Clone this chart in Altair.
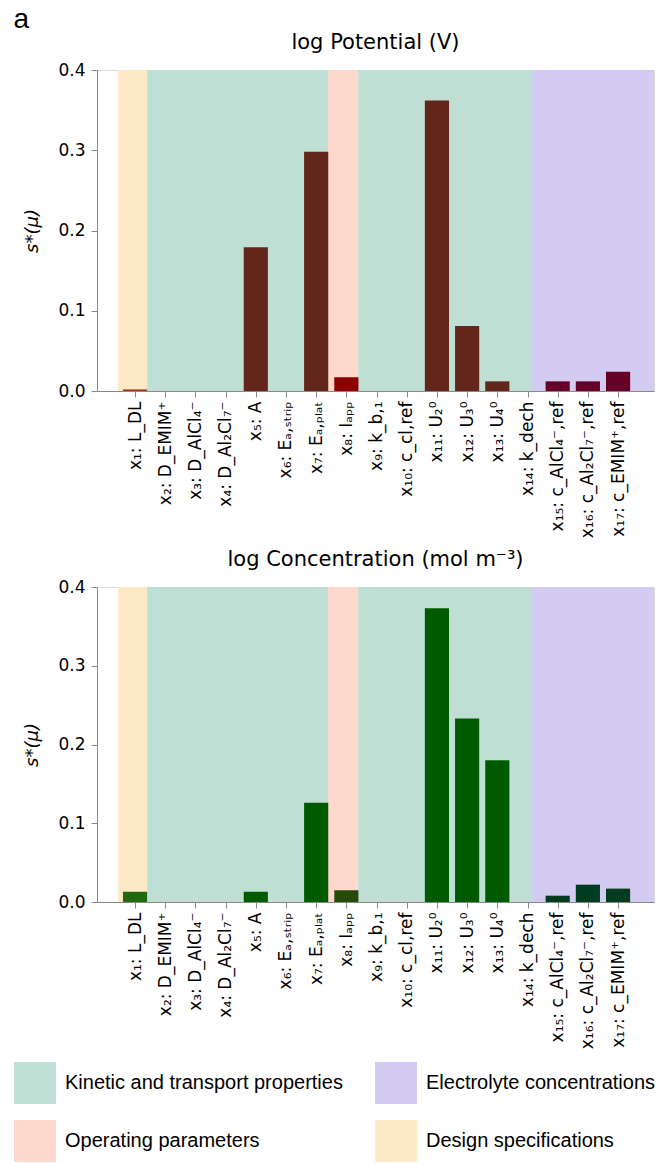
import json
import altair as alt
import pandas as pd

# ---------------- data ----------------
idx = list(range(1, 18))
labels = [
    "x₁: L_DL", "x₂: D_EMIM⁺", "x₃: D_AlCl₄⁻", "x₄: D_Al₂Cl₇⁻", "x₅: A",
    "x₆: Eₐ,ₛₜᵣᵢₚ", "x₇: Eₐ,ₚₗₐₜ", "x₈: Iₐₚₚ", "x₉: k_b,₁", "x₁₀: c_cl,ref",
    "x₁₁: U₂⁰", "x₁₂: U₃⁰", "x₁₃: U₄⁰", "x₁₄: k_dech",
    "x₁₅: c_AlCl₄⁻,ref", "x₁₆: c_Al₂Cl₇⁻,ref", "x₁₇: c_EMIM⁺,ref",
]
groups = (["Design"] + ["Kinetic"] * 6 + ["Operating"] + ["Kinetic"] * 6
          + ["Electrolyte"] * 3)
potential = [0.002, 0, 0, 0, 0.179, 0, 0.298, 0.017, 0, 0, 0.362, 0.081,
             0.012, 0, 0.012, 0.012, 0.024]
concentration = [0.013, 0, 0, 0, 0.013, 0, 0.126, 0.015, 0, 0, 0.373, 0.233,
                 0.180, 0, 0.008, 0.022, 0.017]

pot_colors = {"Design": "#9a3c1c", "Kinetic": "#62261a",
              "Operating": "#8b0000", "Electrolyte": "#660024"}
conc_colors = {"Design": "#22680e", "Kinetic": "#005a00",
               "Operating": "#264a0a", "Electrolyte": "#003c20"}

band_cat = ["Design specifications", "Kinetic and transport properties",
            "Operating parameters", "Kinetic and transport properties",
            "Electrolyte concentrations"]
band_start = [0.44, 1.40, 7.39, 8.39, 14.15]
band_end = [1.40, 7.39, 8.39, 14.15, 18.19]

# legend is filled column by column
legend_order = ["Kinetic and transport properties", "Operating parameters",
                "Electrolyte concentrations", "Design specifications"]
legend_colors = ["#bfdfd4", "#fed7cd", "#d3cbf1", "#fee9c6"]

W = 557
FONT = "DejaVu Sans"
label_expr = json.dumps(labels) + "[datum.value - 1]"


def panel(values, colors, title, height, show_legend):
    bars_df = pd.DataFrame({"idx": idx, "label": labels, "value": values,
                            "fill": [colors[g] for g in groups]})
    bands_df = pd.DataFrame({"start": band_start, "end": band_end,
                             "cat": band_cat})
    xscale = alt.Scale(domain=[-0.26, 18.19], nice=False, zero=False)
    yscale = alt.Scale(domain=[0, 0.4], nice=False)
    xaxis = alt.Axis(values=idx, labelExpr=label_expr, title=None,
                     labelAngle=270, labelAlign="right", labelBaseline="middle",
                     labelFontSize=17, labelFont=FONT, labelPadding=4,
                     tickSize=6, grid=False, labelLimit=300)
    yaxis = alt.Axis(values=[0, 0.1, 0.2, 0.3, 0.4], format=".1f",
                     title="s*(μ)", titleFontStyle="italic",
                     titleFontWeight="normal", titleFontSize=18,
                     titleFont=FONT, titlePadding=16, labelFontSize=17,
                     labelFont=FONT, labelPadding=6, tickSize=6, grid=False)
    if show_legend:
        legend = alt.Legend(orient="none", legendX=-83, legendY=475,
                            columns=2, title=None, symbolType="square",
                            symbolSize=1764, symbolStrokeWidth=0,
                            symbolOpacity=1, labelFontSize=20,
                            labelFont="Liberation Sans", labelColor="#000",
                            labelOffset=9, columnPadding=32, rowPadding=16,
                            labelLimit=400, padding=0)
    else:
        legend = None
    bands = alt.Chart(bands_df).mark_rect().encode(
        x=alt.X("start:Q", scale=xscale, axis=xaxis),
        x2="end:Q",
        y=alt.YDatum(0.0, scale=yscale, axis=yaxis),
        y2=alt.Y2Datum(0.4),
        color=alt.Color("cat:N", scale=alt.Scale(domain=legend_order,
                                                 range=legend_colors),
                        legend=legend),
    )
    bars = alt.Chart(bars_df).transform_calculate(
        lo="datum.idx - 0.4", hi="datum.idx + 0.4"
    ).mark_rect().encode(
        x=alt.X("lo:Q", scale=xscale, axis=xaxis),
        x2="hi:Q",
        y=alt.Y("value:Q", scale=yscale, axis=yaxis),
        y2=alt.Y2Datum(0.0),
        fill=alt.Fill("fill:N", scale=None),
    )
    return alt.layer(bands, bars).properties(
        width=W, height=height,
        title=alt.TitleParams(title, fontSize=21, font=FONT,
                              fontWeight="normal", offset=8),
    )


top = panel(potential, pot_colors, "log Potential (V)", 321, False)
bottom = panel(concentration, conc_colors, "log Concentration (mol m⁻³)", 315,
               True)

chart = alt.vconcat(top, bottom, spacing=9).resolve_scale(
    color="independent"
).properties(
    title=alt.TitleParams("a", anchor="start", fontSize=28,
                          font="Liberation Sans", fontWeight="normal",
                          offset=-2),
    padding={"left": 13, "top": 5, "right": 4, "bottom": 0},
).configure_view(stroke="#333", strokeWidth=1).configure_axis(
    domainColor="#333", tickColor="#333", labelColor="#222",
    titleColor="#222",
).configure(background="white")

chart.save("out.html", embed_options={"renderer": "svg", "actions": False})
